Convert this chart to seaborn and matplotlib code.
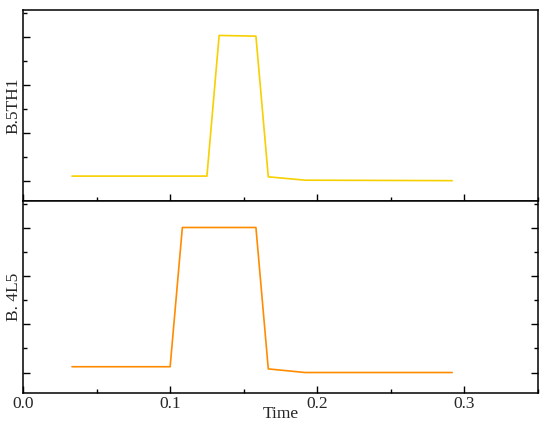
"""
Two stacked time traces (B.5TH1 and B. 4L5) sharing one time axis.
"""

import matplotlib
matplotlib.use("Agg")
import matplotlib.pyplot as plt
from matplotlib.ticker import MultipleLocator
import pandas as pd
import seaborn as sns

# data (y has no labels, arbitrary units)
time_top = [0.0333, 0.125, 0.1333, 0.1583, 0.1667, 0.1917, 0.2917]
value_top = [0.19, 0.19, 6.06, 6.03, 0.16, 0.02, 0.0]

time_bottom = [0.0333, 0.1, 0.1083, 0.1583, 0.1667, 0.1917, 0.2917]
value_bottom = [0.24, 0.24, 6.02, 6.02, 0.15, 0.0, 0.0]

x_ticks = [0.0, 0.1, 0.2, 0.3]

sns.set_style("white")
plt.rcParams["font.family"] = ["Liberation Serif", "DejaVu Serif"]
plt.rcParams["font.size"] = 12.5

fig = plt.figure(figsize=(5.5, 4.25), dpi=100)
ax_top = fig.add_axes([0.0418, 0.527, 0.9364, 0.4494])
ax_bot = fig.add_axes([0.0418, 0.0753, 0.9364, 0.4518], sharex=ax_top)

df_top = pd.DataFrame({"Time": time_top, "value": value_top})
df_bot = pd.DataFrame({"Time": time_bottom, "value": value_bottom})

sns.lineplot(data=df_top, x="Time", y="value", ax=ax_top, color="#F7D000", lw=1.2, sort=False)
sns.lineplot(data=df_bot, x="Time", y="value", ax=ax_bot, color="#FF8C00", lw=1.2, sort=False)

for ax in (ax_top, ax_bot):
    for sp in ax.spines.values():
        sp.set_visible(True)
        sp.set_color("black")
        sp.set_linewidth(1.1)
    ax.set_xlim(0.0, 0.35)
    ax.set_ylim(-0.85, 7.12)
    ax.xaxis.set_major_locator(MultipleLocator(0.1))
    ax.xaxis.set_minor_locator(MultipleLocator(0.05))
    ax.yaxis.set_major_locator(MultipleLocator(2))
    ax.yaxis.set_minor_locator(MultipleLocator(1))
    ax.tick_params(which="both", direction="in", color="black", width=1.0)
    ax.tick_params(which="major", length=5)
    ax.tick_params(which="minor", length=3)
    ax.xaxis.set_ticks_position("bottom")

# top panel: left ticks only, no x labels
ax_top.yaxis.set_ticks_position("left")
ax_top.tick_params(which="both", labelbottom=False, labelleft=False)
# bottom panel: ticks on both sides
ax_bot.yaxis.set_ticks_position("both")
ax_bot.tick_params(which="both", labelleft=False, labelright=False)
ax_bot.set_xticks(x_ticks)
ax_bot.set_xticklabels([f"{t:.1f}" for t in x_ticks])
ax_bot.tick_params(axis="x", pad=2)

ax_top.set_xlabel("")
ax_top.set_ylabel("B.5TH1", labelpad=1)
ax_bot.set_ylabel("B. 4L5", labelpad=1)
ax_bot.set_xlabel("Time", labelpad=-4)

plt.savefig("out.png", dpi=100)
plt.close(fig)
